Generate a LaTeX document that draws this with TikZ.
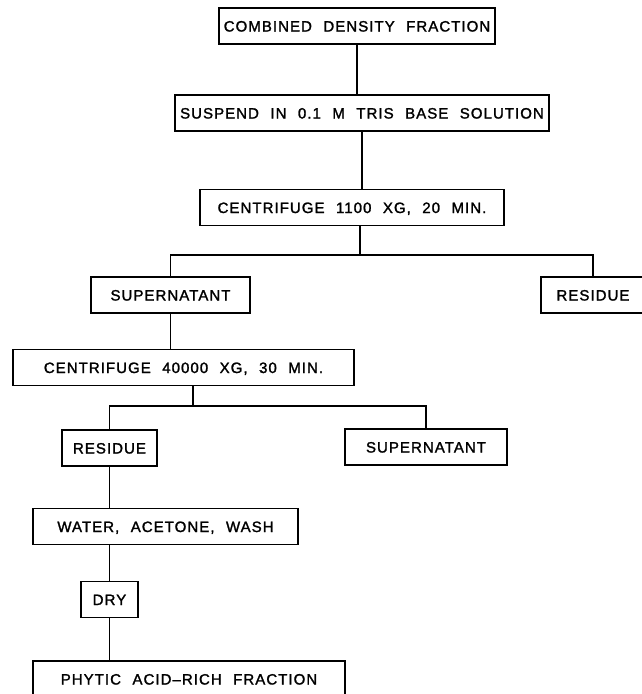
\documentclass[tikz,border=0pt]{standalone}
\usepackage{fontspec}
\newfontfamily\flowfont{Liberation Sans}[LetterSpace=7,WordSpace=2.2,FakeBold=1.6]
\begin{document}
\begin{tikzpicture}[x=1pt, y=-1pt, line width=1.3pt]
	\tikzset{box/.style={draw, rectangle, minimum height=36pt, inner sep=0pt, text height=11pt, text depth=0pt, font=\flowfont\fontsize{15}{17}\selectfont}}
	\useasboundingbox (0,0) rectangle (641,694);

	\node[box, minimum width=276pt]	(0)		at (357,26)		{COMBINED DENSITY FRACTION};
	\node[box, minimum width=374pt]	(1)		at (362,113)	{SUSPEND IN 0.1 M TRIS BASE SOLUTION};
	\node[box, minimum width=304pt]	(2)		at (352,207.5)	{CENTRIFUGE 1100 XG, 20 MIN.};
	\node[box, minimum width=159pt]	(3)		at (170.5,295)	{SUPERNATANT};
	\node[box, minimum width=104pt]	(4)		at (593,295)	{RESIDUE};
	\node[box, minimum width=341pt]	(5)		at (183.5,367.5)	{CENTRIFUGE 40000 XG, 30 MIN.};
	\node[box, minimum width=95pt]	(6)		at (109.5,448)	{RESIDUE};
	\node[box, minimum width=162pt]	(7)		at (426,447)	{SUPERNATANT};
	\node[box, minimum width=265pt]	(8)		at (165.5,526.5)	{WATER, ACETONE, WASH};
	\node[box, minimum width=57pt]	(9)		at (109.5,599.5)	{DRY};
	\node[box, minimum width=312pt]	(10)	at (189,679)	{PHYTIC ACID–RICH FRACTION};

	% split points under the two centrifuge steps
	\coordinate (fork1) at (360,255);
	\coordinate (fork2) at (193,406);

	\draw (0.south) -- (0.south |- 1.north);
	\draw (1.south) -- (1.south |- 2.north);
	\draw (2.south -| fork1) -- (fork1);
	\draw (3.north) |- (fork1) -| (4.north);
	\draw (3.south) -- (3.south |- 5.north);
	\draw (5.south -| fork2) -- (fork2);
	\draw (6.north) |- (fork2) -| (7.north);
	\draw (6.south) -- (6.south |- 8.north);
	\draw (8.south -| 9.north) -- (9.north);
	\draw (9.south) -- (9.south |- 10.north);
\end{tikzpicture}
\end{document}
